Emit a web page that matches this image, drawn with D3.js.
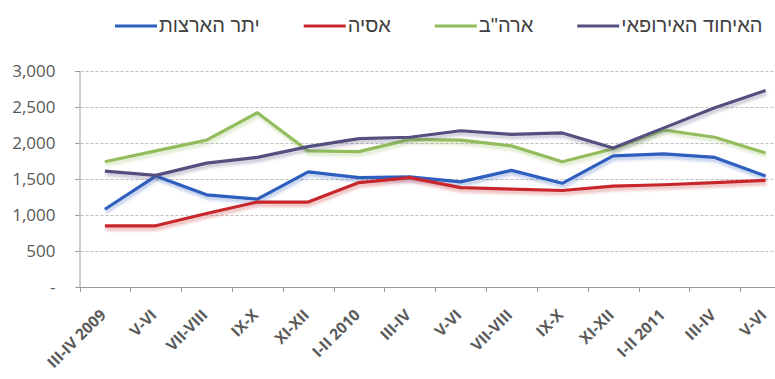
<!DOCTYPE html>
<html>
<head>
<meta charset="utf-8">
<script src="https://cdn.jsdelivr.net/npm/d3@7"></script>
<style>
  html, body { margin: 0; padding: 0; background: #fff; overflow: hidden; }
  svg { display: block; }
</style>
</head>
<body>
<svg id="chart" width="775" height="379"></svg>
<script>
// Bimonthly periods on the x axis
const periods = ["III-IV 2009", "V-VI", "VII-VIII", "IX-X", "XI-XII", "I-II 2010",
                 "III-IV", "V-VI", "VII-VIII", "IX-X", "XI-XII", "I-II 2011", "III-IV", "V-VI"];

// Series names (legend order, left to right)
const seriesNames = ["יתר הארצות", "אסיה", "ארה\"ב", "האיחוד האירופאי"];
const seriesColors = ["#2f5fbf", "#c8262c", "#93bd5c", "#55507f"];

// Values per series
const otherCountries = [1080, 1540, 1280, 1220, 1600, 1520, 1530, 1460, 1620, 1440, 1820, 1850, 1800, 1540];
const asia           = [850, 850, 1020, 1180, 1180, 1450, 1520, 1380, 1360, 1340, 1400, 1420, 1450, 1480];
const usa            = [1740, 1890, 2040, 2420, 1890, 1880, 2050, 2040, 1960, 1740, 1920, 2180, 2080, 1860];
const eu             = [1610, 1550, 1720, 1800, 1950, 2060, 2080, 2170, 2120, 2140, 1930, 2210, 2490, 2730];

const yTicks = [0, 500, 1000, 1500, 2000, 2500, 3000];

const seriesValues = [otherCountries, asia, usa, eu];

const svg = d3.select("#chart");
const fontFamily = "'Open Sans', 'Noto Sans', sans-serif";
const legendFont = "'Liberation Sans', Arial, sans-serif";

const plot = { left: 79.5, right: 791, top: 71, bottom: 287 };

const x = d3.scaleBand().domain(d3.range(periods.length)).range([plot.left, plot.right]);
const y = d3.scaleLinear().domain([0, 3000]).range([plot.bottom, plot.top]);

// Soft drop shadow under the lines
const defs = svg.append("defs");
const f = defs.append("filter").attr("id", "shadow")
  .attr("x", "-5%").attr("y", "-20%").attr("width", "110%").attr("height", "150%");
f.append("feGaussianBlur").attr("in", "SourceGraphic").attr("stdDeviation", 1.4).attr("result", "b");
f.append("feOffset").attr("in", "b").attr("dx", 1).attr("dy", 3).attr("result", "o");
f.append("feComponentTransfer").attr("in", "o").attr("result", "fo")
  .append("feFuncA").attr("type", "linear").attr("slope", 0.35);
const m = f.append("feMerge");
m.append("feMergeNode").attr("in", "fo");
m.append("feMergeNode").attr("in", "SourceGraphic");

// Horizontal dashed gridlines
svg.append("g")
  .selectAll("line")
  .data(yTicks.filter(d => d > 0))
  .join("line")
  .attr("x1", plot.left - 4).attr("x2", 775)
  .attr("y1", d => Math.round(y(d)) + 0.5).attr("y2", d => Math.round(y(d)) + 0.5)
  .attr("stroke", "#bdbdbd").attr("stroke-width", 1)
  .attr("stroke-dasharray", "3,2");

// Y axis
const yAxis = d3.axisLeft(y).tickValues(yTicks).tickSize(4).tickPadding(20)
  .tickFormat(d => d === 0 ? "-" : d3.format(",")(d));
const gy = svg.append("g").attr("transform", `translate(${plot.left},0)`).call(yAxis);
gy.select(".domain").attr("stroke", "#9a9a9a");
gy.selectAll(".tick line").attr("stroke", "#9a9a9a");
gy.selectAll(".tick text")
  .attr("fill", "#595959").attr("font-family", fontFamily).attr("font-size", 17);

// X axis with ticks at band boundaries
const gx = svg.append("g").attr("transform", `translate(0,${plot.bottom})`);
gx.append("line").attr("x1", plot.left).attr("x2", 775).attr("y1", 0.5).attr("y2", 0.5)
  .attr("stroke", "#9a9a9a");
gx.selectAll("line.tk")
  .data(d3.range(periods.length + 1))
  .join("line").attr("class", "tk")
  .attr("x1", i => Math.round(plot.left + i * x.step()) + 0.5)
  .attr("x2", i => Math.round(plot.left + i * x.step()) + 0.5)
  .attr("y1", 0).attr("y2", 5)
  .attr("stroke", "#9a9a9a");
gx.selectAll("text")
  .data(periods)
  .join("text")
  .attr("transform", (d, i) => `translate(${x(i) + x.bandwidth() / 2 + 2},${29}) rotate(-45)`)
  .attr("text-anchor", "end")
  .attr("fill", "#5a5a5a")
  .attr("font-family", fontFamily)
  .attr("font-size", 15.5)
  .attr("font-weight", "bold")
  .text(d => d);

// Lines
const line = d3.line()
  .x((d, i) => x(i) + x.bandwidth() / 2)
  .y(d => y(d));

svg.append("g")
  .selectAll("path")
  .data(seriesValues)
  .join("path")
  .attr("d", d => line(d))
  .attr("fill", "none")
  .attr("stroke", (d, i) => seriesColors[i])
  .attr("stroke-width", 3.2)
  .attr("stroke-linejoin", "round")
  .attr("filter", "url(#shadow)");

// Legend: [line][label] items laid out left to right
const legend = svg.append("g").attr("transform", "translate(0,24)");
let cursor = 115;
seriesNames.forEach((name, i) => {
  const gItem = legend.append("g");
  gItem.append("line")
    .attr("x1", cursor).attr("x2", cursor + 42)
    .attr("y1", 2).attr("y2", 2)
    .attr("stroke", seriesColors[i]).attr("stroke-width", 3);
  const t = gItem.append("text")
    .attr("y", 8)
    .attr("fill", "#404040")
    .attr("font-family", legendFont)
    .attr("font-size", 20)
    .attr("text-anchor", "middle")
    .text(name);
  const w = t.node().getComputedTextLength();
  t.attr("x", cursor + 44 + w / 2);
  cursor += 44 + w + 44;
});
</script>
</body>
</html>
